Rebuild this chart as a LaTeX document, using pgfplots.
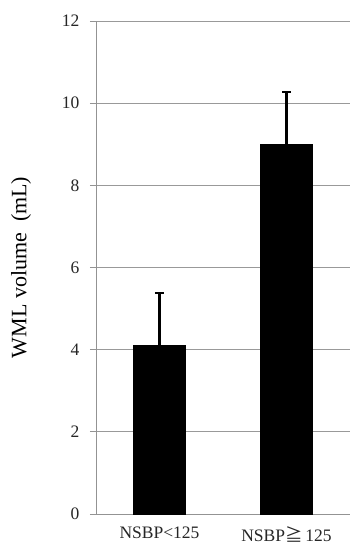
\documentclass[border=0pt]{standalone}
\usepackage{pgfplots}
\pgfplotsset{compat=1.18}
\usepackage{fontspec}
\setmainfont{Liberation Serif}
\newfontfamily\cjk{Noto Sans CJK JP}
\begin{document}
\begin{tikzpicture}[x=1pt,y=1pt]
\useasboundingbox (-96,-31) rectangle (255,514);
\begin{axis}[
  at={(0,0)}, anchor=south west,
  scale only axis, width=254pt, height=493pt,
  xmin=-0.5, xmax=1.5, ymin=0, ymax=12,
  ytick={0,2,4,6,8,10,12},
  xtick={0,1},
  xticklabels={NSBP<125, NSBP{\cjk ≧}\,125},
  axis x line=bottom, axis y line=left,
  axis line style={-, draw=gray!85, line width=0.9pt},
  ymajorgrids, grid style={draw=gray!80, line width=0.9pt},
  xtick style={draw=none},
  ytick style={draw=gray!85, line width=0.9pt},
  tick align=outside, major tick length=6pt,
  extra x ticks={-0.5,0.5,1.5}, extra x tick labels={},
  extra x tick style={tick style={draw=gray!85, line width=0.9pt}, major tick length=5pt, grid=none},
  /pgf/number format/assume math mode=true,
  ticklabel style={font=\fontsize{17.5}{20}\selectfont, text=black!85},
  yticklabel style={xshift=-7pt},
  xticklabel style={yshift=-3pt, font=\fontsize{17.5}{20}\selectfont},
  ylabel={WML volume\ \ (mL)},
  ylabel style={font=\fontsize{22}{26}\selectfont, at={(ticklabel cs:0.5)}, anchor=south, yshift=24pt},
  clip=false,
]
\addplot[ybar, bar width=52pt, fill=black, draw=black,
  error bars/.cd, y dir=plus, y explicit,
  error bar style={line width=2.4pt, black},
  error mark options={rotate=90, mark size=4.5pt, line width=2pt, black}]
  coordinates {(0,4.1) +- (0,1.27) (1,9.0) +- (0,1.27)};
\end{axis}
\end{tikzpicture}
\end{document}
